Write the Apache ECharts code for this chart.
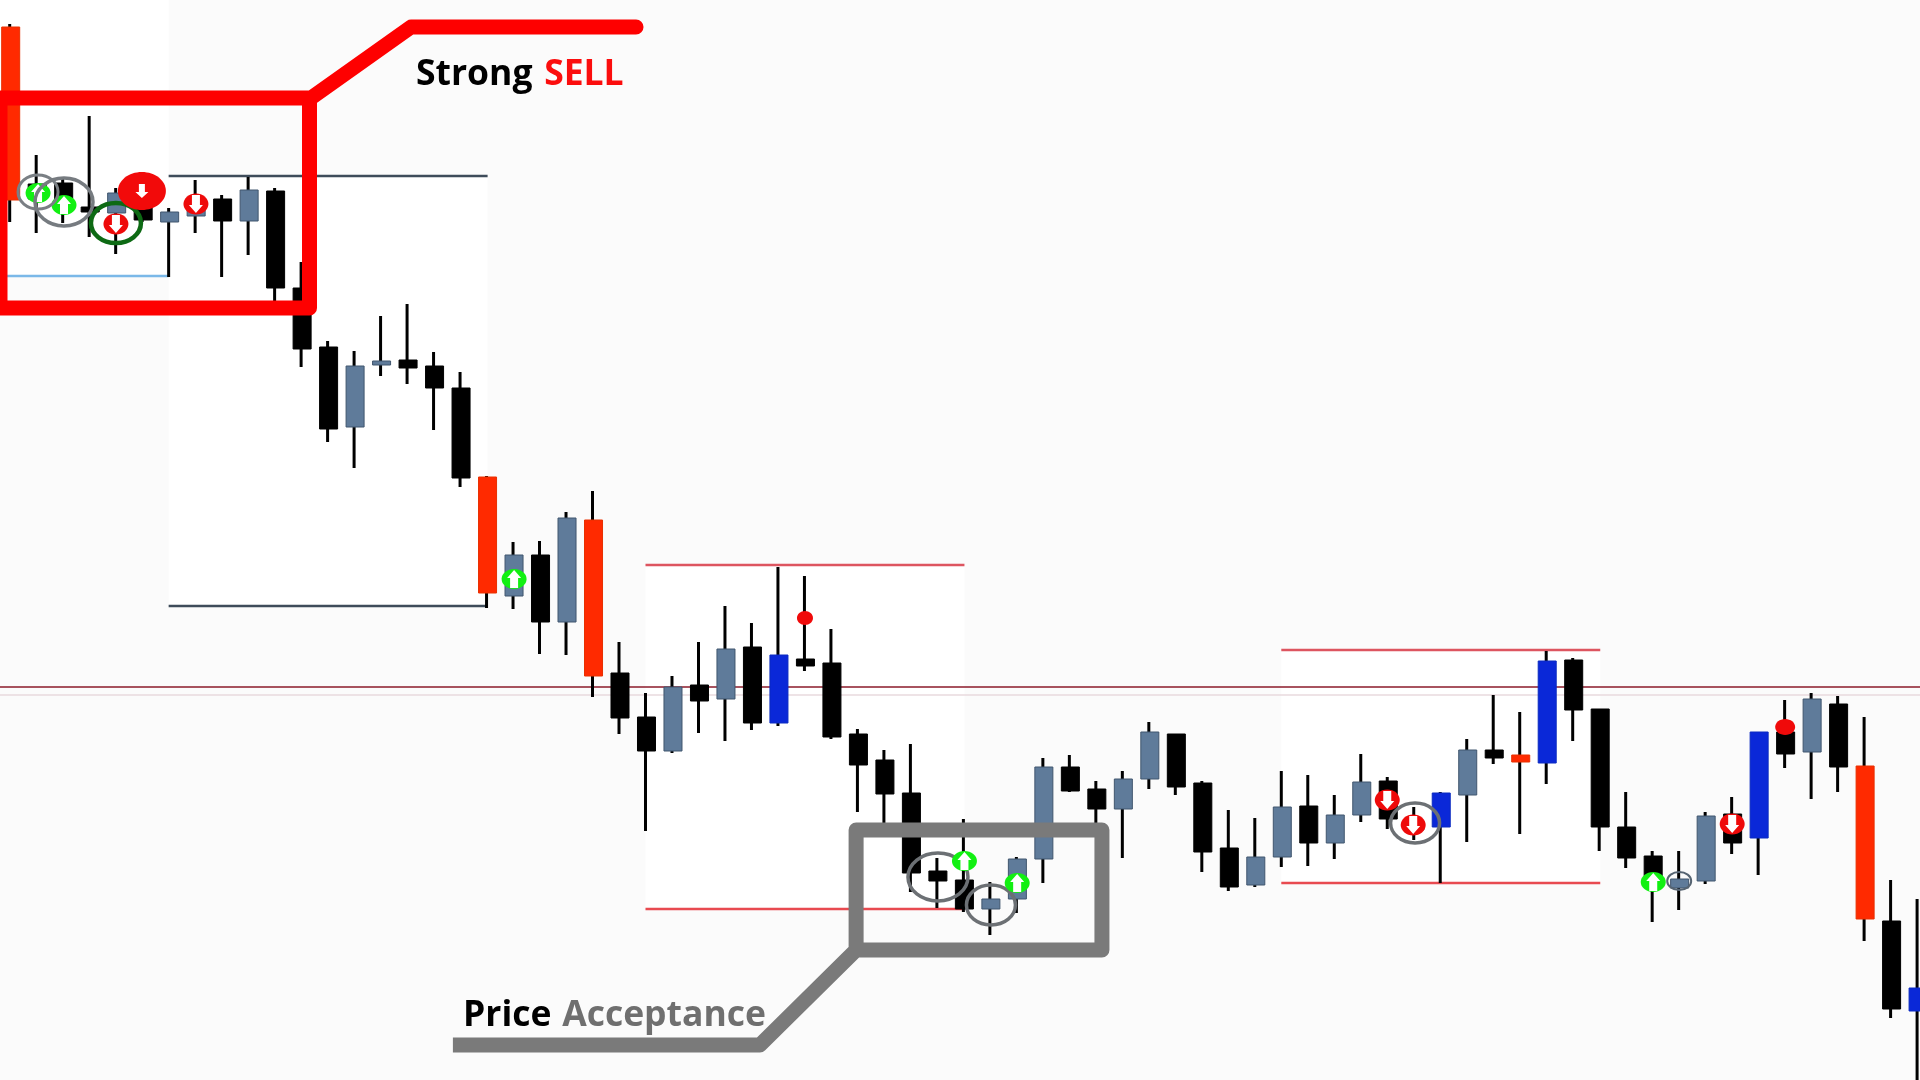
<!DOCTYPE html>
<html>
<head>
<meta charset="utf-8">
<title>Strong SELL / Price Acceptance</title>
<script src="https://cdn.jsdelivr.net/npm/echarts@6/dist/echarts.min.js"></script>
<style>html,body{margin:0;padding:0;background:#fbfbfb;overflow:hidden}#c{width:1920px;height:1080px}</style>
</head>
<body>
<div id="c"></div>
<script>
// Candle data (price units, oldest first). k=black bear, s=slate bull, r=red strong bear, b=blue strong bull
const candleKinds = ['r','k','k','k','s','k','s','s','k','s','k','k','k','s','s','k','k','k','r','s','k','s','r','k','k','s','k','s','k','b','k','k','k','k','k','k','k','s','s','s','k','k','s','s','k','k','k','s','s','k','s','s','k','k','b','s','k','r','b','k','k','k','k','s','s','k','b','k','s','k','r','k','b'];
const opens  = [1053,896,897,873,867,885,858,864,881,859,889,792,733,653,715,720,714,692,603,484,525,458,560,407,363,329,395,381,433,357,421,417,346,320,287,209,200,171,181,221,313,291,271,301,346,297,232,195,223,274,237,265,299,258,253,285,330,325,317,420,371,253,224,192,199,266,242,348,328,376,314,159,69];
const closes = [880,881,876,868,887,860,868,875,859,890,792,731,651,714,719,712,692,602,487,525,458,562,404,362,329,393,379,431,357,425,414,343,315,286,207,199,171,181,221,313,289,271,301,348,293,228,193,223,273,237,265,298,261,250,287,330,322,318,419,370,253,222,193,201,264,237,348,326,381,313,161,71,92];
const highs  = [1056,925,902,964,892,895,872,900,885,903,892,818,739,729,764,776,728,708,604,538,539,568,589,438,387,404,438,474,457,513,504,451,351,330,336,222,261,198,223,322,325,299,309,358,346,299,270,262,309,305,285,326,303,273,288,341,385,368,429,422,371,288,229,229,268,283,348,380,387,384,363,200,181];
const lows   = [858,847,857,843,826,858,803,847,803,825,778,713,638,612,704,696,650,593,472,471,426,425,383,346,249,327,347,339,350,354,409,341,268,255,188,172,168,145,167,197,288,250,222,291,285,208,189,193,213,214,221,258,251,240,197,238,316,246,296,339,229,212,158,170,196,226,205,312,281,288,139,62,0];

// Consolidation ranges
const rangeFrom  = [-0.366,6,24,48];
const rangeTo    = [6,18.04,36.04,60.04];
const rangeHigh  = [1080,904,515,430];
const rangeLow   = [804,474,171,197];
const rangeKinds = ['pale','dark','red','red'];

// Horizontal levels
const levelPrices = [393,385];

// Signals on the candles
const signalIndex = [1.07,2.05,4.01,1.07,2.05,4.01,4.99,7.03,19.04,30.02,35.04,36.04,37.04,38.03,52.0,52.98,53.05,62.04,63.02,65.02,67.02];
const signalPrice = [887,875,856,888,878,857,889,876,501,462,203,219,175,197,280,255,257,198,199,256,353];
const signalKinds = ['up','up','down','ringS','ringL','ringG','bigDown','down','up','dot','ringXL','up','ringM','up','down','down','ringM','up','ringT','down','dotL'];

// Callouts in chart units
const sellCallout = [[23.643,1053],[15.149,1053],[11.374,982],[-0.366,982],[-0.366,772],[11.317,772],[11.317,982]];
const acceptCallout = [[16.73,35],[28.32,35],[31.95,130],[41.23,130],[41.23,250],[31.95,250],[31.95,130],[32.5,130]];

const X_MIN = -0.366, X_MAX = 72.11;

const candleStyle = {
  k:{fill:'#000000',stroke:'#000000'},
  s:{fill:'#5f7b9a',stroke:'#40566e'},
  r:{fill:'#ff2a00',stroke:'#e83000'},
  b:{fill:'#0a28d8',stroke:'#0a2ac0'}
};
const rangeStyle = {
  pale:{top:null,bottom:'#7ab8e8'},
  dark:{top:'#3e4c5a',bottom:'#3e4c5a'},
  red:{top:'#dd5560',bottom:'#e84a50'}
};
const markerStyle = {
  up:{fill:'#12f012',rx:12.5,ry:10,arrow:1},
  down:{fill:'#ee0a0a',rx:12.5,ry:10.5,arrow:-1},
  bigDown:{fill:'#f20a0a',rx:24,ry:19,arrow:-1,small:true},
  dot:{fill:'#f00a0a',rx:8,ry:7},
  dotL:{fill:'#f00a0a',rx:10,ry:8},
  ringS:{ring:'#7a7f84',rx:20,ry:17,w:3},
  ringL:{ring:'#767b80',rx:29,ry:24,w:3.5},
  ringG:{ring:'#0d6a14',rx:25,ry:20,w:4.5},
  ringXL:{ring:'#6c7074',rx:30,ry:24,w:3.5},
  ringM:{ring:'#6c7074',rx:24.5,ry:20,w:3.5},
  ringT:{ring:'#566472',rx:12,ry:9,w:2}
};

const candleRows = opens.map((o,i)=>[i,o,closes[i],lows[i],highs[i],candleKinds[i]]);
const rangeRows  = rangeFrom.map((f,i)=>[f,rangeTo[i],rangeHigh[i],rangeLow[i],rangeKinds[i]]);
const signalRows = signalIndex.map((x,i)=>[x,signalPrice[i],signalKinds[i]]);

function renderCandle(params, api){
  const x = api.value(0), o = api.value(1), c = api.value(2), l = api.value(3), h = api.value(4);
  const st = candleStyle[api.value(5)];
  const bw = api.size([1,0])[0]*0.68;
  const pH = api.coord([x,h]), pL = api.coord([x,l]);
  const pT = api.coord([x,Math.max(o,c)]), pB = api.coord([x,Math.min(o,c)]);
  return {type:'group',children:[
    {type:'line',shape:{x1:pH[0],y1:pH[1],x2:pL[0],y2:pL[1]},style:{stroke:'#000',lineWidth:3}},
    {type:'rect',shape:{x:pT[0]-bw/2+1,y:pT[1],width:bw,height:pB[1]-pT[1]},style:{fill:st.fill,stroke:st.stroke,lineWidth:1}}
  ]};
}
function renderRange(params, api){
  const a = api.coord([api.value(0),api.value(2)]), b = api.coord([api.value(1),api.value(3)]);
  const st = rangeStyle[api.value(4)];
  const kids = [{type:'rect',shape:{x:a[0],y:a[1],width:b[0]-a[0],height:b[1]-a[1]},style:{fill:'#ffffff'}}];
  if(st.top) kids.push({type:'line',shape:{x1:a[0],y1:a[1],x2:b[0],y2:a[1]},style:{stroke:st.top,lineWidth:2.5}});
  kids.push({type:'line',shape:{x1:a[0],y1:b[1],x2:b[0],y2:b[1]},style:{stroke:st.bottom,lineWidth:2.5}});
  return {type:'group',children:kids};
}
function renderSignal(params, api){
  const p = api.coord([api.value(0),api.value(1)]);
  const st = markerStyle[api.value(2)];
  const kids = [];
  if(st.ring){
    kids.push({type:'ellipse',shape:{cx:p[0],cy:p[1],rx:st.rx,ry:st.ry},style:{fill:'none',stroke:st.ring,lineWidth:st.w}});
  } else {
    kids.push({type:'ellipse',shape:{cx:p[0],cy:p[1],rx:st.rx,ry:st.ry},style:{fill:st.fill}});
    if(st.arrow){
      const d = st.arrow, hw = st.small?6.5:7, sw = st.small?3:4, len = st.small?7:9;
      const y = v => p[1]-d*v;
      kids.push({type:'polygon',shape:{points:[
        [p[0]-sw,y(-len)],[p[0]+sw,y(-len)],[p[0]+sw,y(1)],[p[0]+hw,y(1)],[p[0],y(len)],[p[0]-hw,y(1)],[p[0]-sw,y(1)]
      ]},style:{fill:'#ffffff'}});
    }
  }
  return {type:'group',children:kids};
}

const chart = echarts.init(document.getElementById('c'),null,{width:1920,height:1080});
chart.setOption({
  animation:false,
  backgroundColor:'#fbfbfb',
  grid:{left:0,top:0,width:1920,height:1080,containLabel:false},
  xAxis:{type:'value',min:X_MIN,max:X_MAX,show:false},
  yAxis:{type:'value',min:0,max:1080,show:false},
  title:[
    {left:416,top:57,padding:0,z:20,text:'{a|Strong} {b|SELL}',textStyle:{fontFamily:'Open Sans',rich:{
      a:{fontFamily:'Open Sans',fontWeight:700,fontSize:35.5,color:'#000000'},
      b:{fontFamily:'Open Sans',fontWeight:700,fontSize:35.5,color:'#fb0d0d',padding:[0,0,0,7]}}}},
    {left:463,top:998,padding:0,z:20,text:'{a|Price} {b|Acceptance}',textStyle:{fontFamily:'Open Sans',rich:{
      a:{fontFamily:'Open Sans',fontWeight:700,fontSize:35.5,color:'#000000'},
      b:{fontFamily:'Open Sans',fontWeight:700,fontSize:35.5,color:'#6f6f6f',padding:[0,0,0,6]}}}}
  ],
  series:[
    {name:'Ranges',type:'custom',z:1,silent:true,clip:true,renderItem:renderRange,data:rangeRows,encode:{x:[0,1],y:[2,3]}},
    {name:'Level',type:'line',z:2,silent:true,symbol:'none',data:[[X_MIN,levelPrices[0]],[X_MAX,levelPrices[0]]],lineStyle:{color:'#8b1a2a',width:1.5}},
    {name:'Level 2',type:'line',z:2,silent:true,symbol:'none',data:[[X_MIN,levelPrices[1]],[X_MAX,levelPrices[1]]],lineStyle:{color:'#e9dade',width:1.5}},
    {name:'Candles',type:'custom',z:3,clip:true,renderItem:renderCandle,data:candleRows,encode:{x:0,y:[1,2,3,4]}},
    {name:'Signals',type:'custom',z:4,clip:true,renderItem:renderSignal,data:signalRows,encode:{x:0,y:1}},
    {name:'Strong SELL',type:'line',z:5,silent:true,clip:false,symbol:'none',data:sellCallout,lineStyle:{color:'#fe0000',width:15,join:'round',cap:'round'}},
    {name:'Price Acceptance',type:'line',z:5,silent:true,clip:false,symbol:'none',data:acceptCallout,lineStyle:{color:'#7a7a7a',width:15,join:'round',cap:'butt'}}
  ]
});
</script>
</body>
</html>
